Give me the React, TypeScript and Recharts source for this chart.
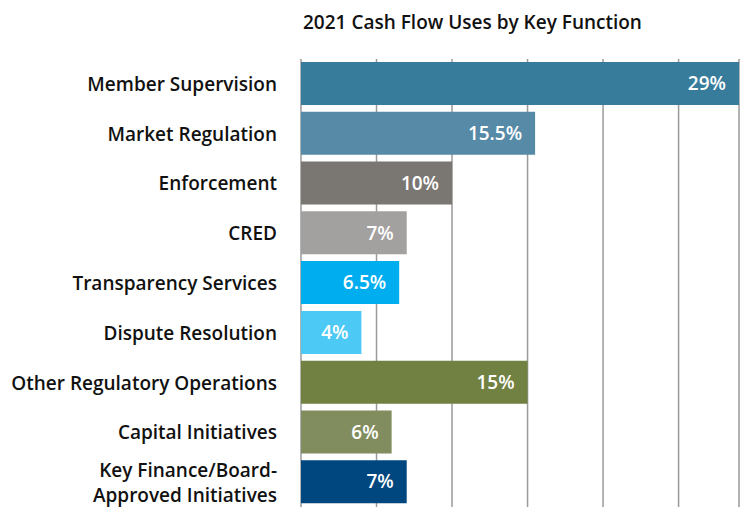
import React from 'react';
import { BarChart, Bar, XAxis, YAxis, CartesianGrid, Cell, LabelList } from 'recharts';

const categories = [
  'Member Supervision',
  'Market Regulation',
  'Enforcement',
  'CRED',
  'Transparency Services',
  'Dispute Resolution',
  'Other Regulatory Operations',
  'Capital Initiatives',
  'Key Finance/Board-Approved Initiatives',
];
const shares = [29, 15.5, 10, 7, 6.5, 4, 15, 6, 7];
const barColors = ['#387C9B', '#578AA6', '#7A7672', '#A3A19F', '#00AEEF', '#4DC9F6', '#708141', '#818D5F', '#00467F'];
const xTicks = [0, 5, 10, 15, 20, 25];

const data = categories.map((name, i) => ({ name, value: shares[i] }));

const FONT = '"Open Sans", "Noto Sans", sans-serif';

// split the long label into two lines like the original
const CategoryTick = (props: any) => {
  const { x, y, payload } = props;
  const label: string = payload.value;
  const lines = label.startsWith('Key Finance') ? ['Key Finance/Board-', 'Approved Initiatives'] : [label];
  const lineHeight = 25;
  const startDy = -((lines.length - 1) * lineHeight) / 2;
  return (
    <text x={x} y={y} textAnchor="end" fill="#111" fontSize={19} fontWeight={600} fontFamily={FONT}>
      {lines.map((l, i) => (
        <tspan key={l} x={x} dy={i === 0 ? startDy + 7 : lineHeight}>{l}</tspan>
      ))}
    </text>
  );
};

export default function App() {
  return (
    <div style={{ position: 'absolute', left: 0, top: 0, width: 743, height: 515, background: '#fff' }}>
      <div
        style={{
          position: 'absolute',
          left: 303,
          top: 9,
          fontFamily: FONT,
          fontWeight: 600,
          fontSize: 19,
          color: '#111',
          whiteSpace: 'nowrap',
        }}
      >
        2021 Cash Flow Uses by Key Function
      </div>
      <BarChart
        width={743}
        height={515}
        data={data}
        layout="vertical"
        margin={{ top: 59, right: 4, bottom: 8, left: 0 }}
        barCategoryGap={3}
      >
        <CartesianGrid horizontal={false} vertical stroke="#9a9a9a" strokeWidth={1.5} />
        <XAxis type="number" domain={[0, 29]} ticks={xTicks} hide />
        <YAxis
          type="category"
          dataKey="name"
          width={301}
          axisLine={false}
          tickLine={false}
          tickMargin={18}
          tick={<CategoryTick />}
          interval={0}
        />
        <Bar dataKey="value" isAnimationActive={false} barSize={43}>
          {data.map((d, i) => (
            <Cell key={d.name} fill={barColors[i]} />
          ))}
          <LabelList
            dataKey="value"
            position="insideRight"
            offset={13}
            fill="#fff"
            fontSize={19}
            fontWeight={600}
            fontFamily={FONT}
            formatter={(v: any) => `${v}%`}
          />
        </Bar>
      </BarChart>
    </div>
  );
}
